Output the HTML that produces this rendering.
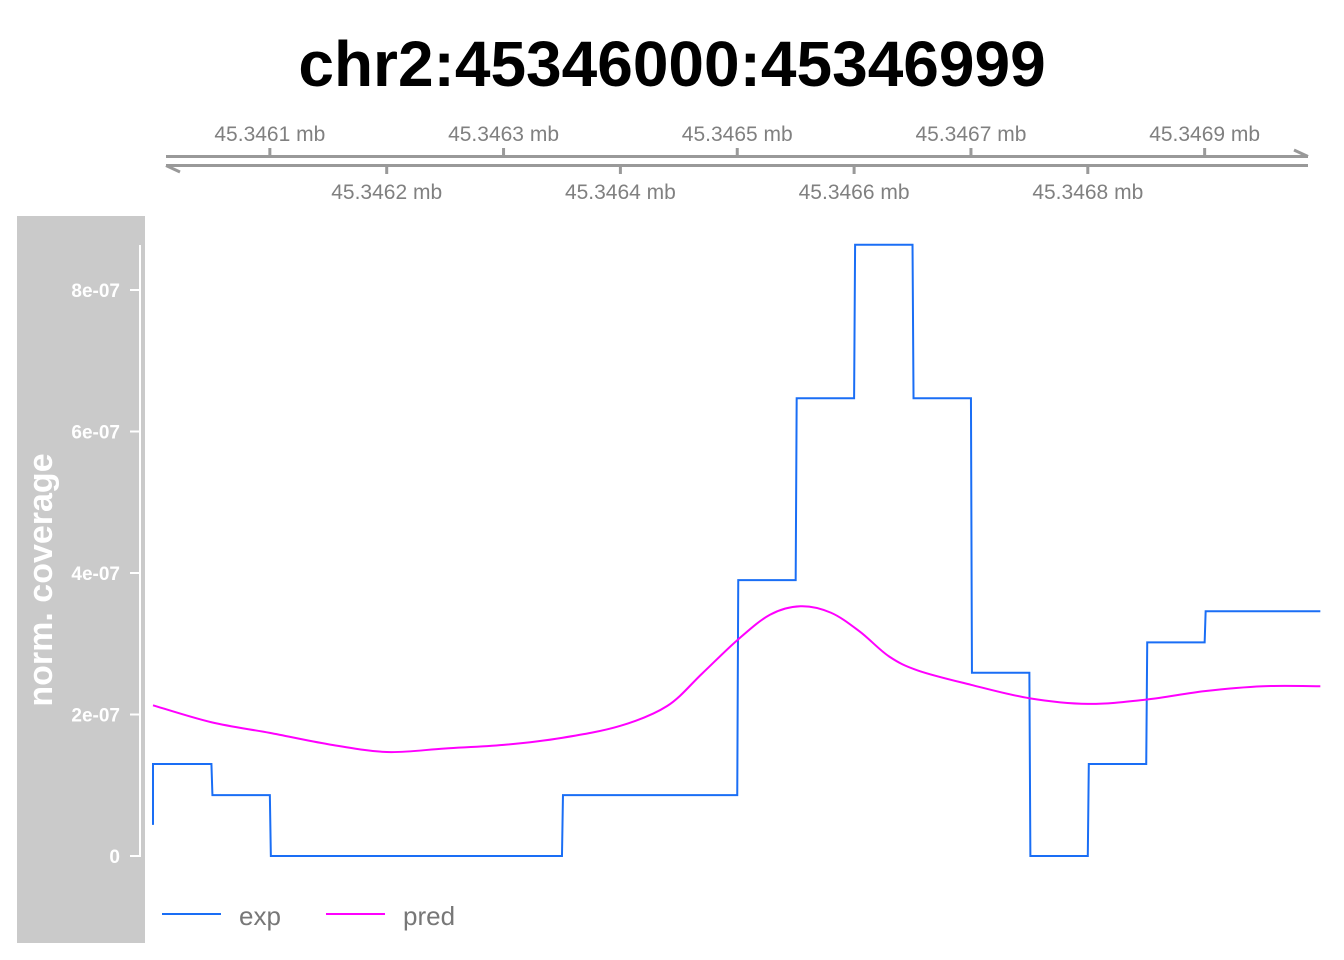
<!DOCTYPE html>
<html><head><meta charset="utf-8">
<style>
html,body{margin:0;padding:0;background:#fff;}
svg{display:block;font-family:"Liberation Sans",Arial,sans-serif;}
</style></head>
<body>
<svg id="chart" width="1344" height="960" viewBox="0 0 1344 960" xmlns="http://www.w3.org/2000/svg">
  <text x="672" y="86" text-anchor="middle" font-size="64" font-weight="bold" fill="#000">chr2:45346000:45346999</text>
  <g id="genome-axis">
    <line x1="166" y1="156.5" x2="1308" y2="156.5" stroke="#999" stroke-width="3"/>
    <line x1="166" y1="165.5" x2="1308" y2="165.5" stroke="#999" stroke-width="3"/>
    <polyline points="1294,150 1308,156.5" fill="none" stroke="#999" stroke-width="3"/>
    <polyline points="180,172 166,165.5" fill="none" stroke="#999" stroke-width="3"/>
  </g>
  <rect x="17" y="216" width="128" height="727" fill="#cacaca"/>
  <text transform="translate(52,580) rotate(-90)" text-anchor="middle" font-size="34" font-weight="bold" fill="#fff">norm. coverage</text>
  <line x1="140" y1="245" x2="140" y2="857" stroke="#fff" stroke-width="2"/>
  <g id="yticks"></g>
  <g id="plot"></g>
  <g>
    <line x1="162" y1="914" x2="221" y2="914" stroke="#1a6ef5" stroke-width="2"/>
    <text x="239" y="925" font-size="26" fill="#777">exp</text>
    <line x1="326" y1="914" x2="385" y2="914" stroke="#ff00ff" stroke-width="2"/>
    <text x="403" y="925" font-size="26" fill="#777">pred</text>
  </g>
</svg>
<script>
// data (x in bp offset from 45346000, values in units of 1e-7)
const xTickBp = [100,200,300,400,500,600,700,800,900];
const xTickLabels = ["45.3461 mb","45.3462 mb","45.3463 mb","45.3464 mb","45.3465 mb","45.3466 mb","45.3467 mb","45.3468 mb","45.3469 mb"];
const yTicks = [0,2,4,6,8];
const yTickLabels = ["0","2e-07","4e-07","6e-07","8e-07"];
const expBinStart = [0,50,100,150,200,250,300,350,400,450,500,550,600,650,700,750,800,850,900,950];
const expValues = [1.3,0.86,0,0,0,0,0,0.86,0.86,0.86,3.9,6.47,8.64,6.47,2.59,0,1.3,3.02,3.46,3.46];
const predPos = [0,50,100,150,200,250,300,350,400,440,470,500,528,554,580,605,630,655,700,750,800,850,900,950,999];
const predValues = [2.13,1.89,1.74,1.58,1.47,1.52,1.57,1.67,1.84,2.12,2.58,3.05,3.41,3.53,3.44,3.17,2.82,2.62,2.42,2.23,2.15,2.21,2.33,2.40,2.40];

const NS="http://www.w3.org/2000/svg";
const xs = bp => 153 + bp*1.1685;
const ys = v => 856 - v*70.75;
function mk(tag, attrs, parent){const e=document.createElementNS(NS,tag);for(const k in attrs)e.setAttribute(k,attrs[k]);parent.appendChild(e);return e;}

const axis=document.getElementById('genome-axis');
xTickBp.forEach((b,i)=>{
  const x=xs(b), up=i%2===0;
  const t=mk('line',{x1:x,x2:x,y1:up?148:165,y2:up?157:174,stroke:'#999','stroke-width':3},axis);
  
  
  const l=mk('text',{x:x,y:up?141:199,'text-anchor':'middle','font-size':21,fill:'#808080'},axis);
  l.textContent=xTickLabels[i];
  
  
});
const yg=document.getElementById('yticks');
yTicks.forEach((v,i)=>{
  const y=ys(v);
  const t=mk('line',{x1:130,x2:140,y1:y,y2:y,stroke:'#fff','stroke-width':2},yg);
  
  
  const l=mk('text',{x:120,y:y+7,'text-anchor':'end','font-size':19,'font-weight':'bold',fill:'#fff'},yg);
  l.textContent=yTickLabels[i];
  
  
});
const plot=document.getElementById('plot');
let d=`M${xs(0)},${ys(0.44)} L${xs(0)},${ys(expValues[0])}`;
expBinStart.forEach((b,i)=>{
  if(i>0) d+=` L${xs(b)+1},${ys(expValues[i])}`;
  d+=` L${xs(i<expBinStart.length-1?expBinStart[i+1]:999)},${ys(expValues[i])}`;
});
const ep=mk('path',{d:d,fill:'none',stroke:'#1a6ef5','stroke-width':2},plot);


const P=predPos.map((b,i)=>[xs(b),ys(predValues[i])]);
let pd=`M${P[0][0]},${P[0][1]}`;
for(let i=0;i<P.length-1;i++){
  const p0=P[Math.max(0,i-1)],p1=P[i],p2=P[i+1],p3=P[Math.min(P.length-1,i+2)];
  const c1=[p1[0]+(p2[0]-p0[0])/6,p1[1]+(p2[1]-p0[1])/6];
  const c2=[p2[0]-(p3[0]-p1[0])/6,p2[1]-(p3[1]-p1[1])/6];
  pd+=` C${c1[0]},${c1[1]} ${c2[0]},${c2[1]} ${p2[0]},${p2[1]}`;
}
const pp=mk('path',{d:pd,fill:'none',stroke:'#ff00ff','stroke-width':2},plot);


</script>
</body></html>
